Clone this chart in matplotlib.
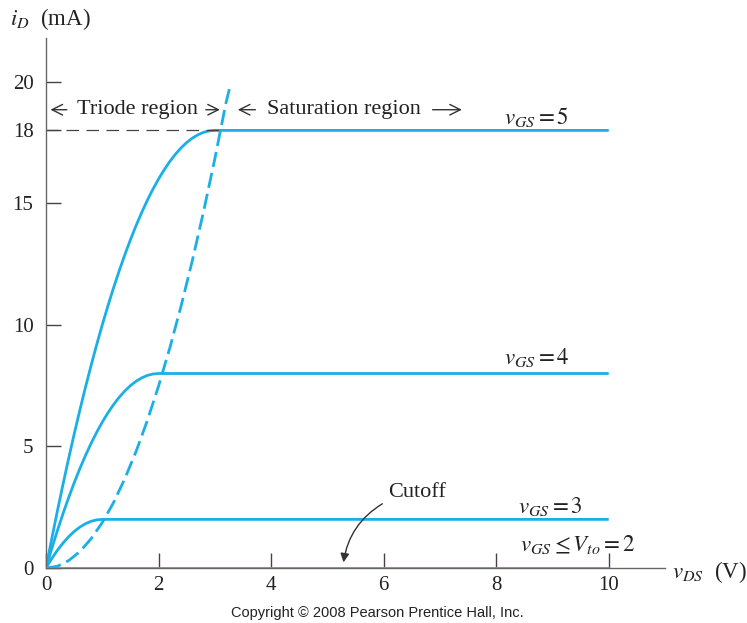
import matplotlib
matplotlib.use("Agg")
import matplotlib.pyplot as plt

plt.rcParams['font.family'] = ['Liberation Serif', 'DejaVu Serif']
plt.rcParams['mathtext.fontset'] = 'stix'

BLUE = '#1AAFE6'

# vGS = 5 curve (triode part then saturation)
vds_5 = [0, 0.1, 0.2, 0.3, 0.4, 0.5, 0.6, 0.7, 0.8, 0.9, 1.0, 1.1, 1.2, 1.3, 1.4, 1.5,
         1.6, 1.7, 1.8, 1.9, 2.0, 2.1, 2.2, 2.3, 2.4, 2.5, 2.6, 2.7, 2.8, 2.9, 3.0, 3.1, 3.2, 10.0]
id_5 = [0, 1.18, 2.32, 3.42, 4.48, 5.5, 6.48, 7.42, 8.32, 9.18, 10.0, 10.78, 11.52, 12.22, 12.88, 13.5,
        14.08, 14.62, 15.12, 15.58, 16.0, 16.38, 16.72, 17.02, 17.28, 17.5, 17.68, 17.82, 17.92, 17.98,
        18.0, 18.0, 18.0, 18.0]
# vGS = 4
vds_4 = [0, 0.1, 0.2, 0.3, 0.4, 0.5, 0.6, 0.7, 0.8, 0.9, 1.0, 1.1, 1.2, 1.3, 1.4, 1.5,
         1.6, 1.7, 1.8, 1.9, 2.0, 2.1, 10.0]
id_4 = [0, 0.78, 1.52, 2.22, 2.88, 3.5, 4.08, 4.62, 5.12, 5.58, 6.0, 6.38, 6.72, 7.02, 7.28, 7.5,
        7.68, 7.82, 7.92, 7.98, 8.0, 8.0, 8.0]
# vGS = 3
vds_3 = [0, 0.1, 0.2, 0.3, 0.4, 0.5, 0.6, 0.7, 0.8, 0.9, 1.0, 1.05, 10.0]
id_3 = [0, 0.38, 0.72, 1.02, 1.28, 1.5, 1.68, 1.82, 1.92, 1.98, 2.0, 2.0, 2.0]
# cutoff vGS <= Vto = 2
vds_2 = [0, 10.0]
id_2 = [0, 0]
# triode / saturation boundary (dashed)
vds_b = [0, 0.2, 0.4, 0.6, 0.8, 1.0, 1.2, 1.4, 1.6, 1.8, 2.0, 2.2, 2.4, 2.6, 2.8, 3.0, 3.2, 3.28]
id_b = [0, 0.07, 0.3, 0.67, 1.2, 1.87, 2.69, 3.67, 4.79, 6.06, 7.48, 9.05, 10.77, 12.64,
        14.66, 16.83, 19.15, 19.9]

x_ticks = [0, 2, 4, 6, 8, 10]
y_ticks = [0, 5, 10, 15, 18, 20]

fig = plt.figure(figsize=(7.47, 6.23), dpi=100)
ax = fig.add_axes([46/747, 55/623, (665-46)/747, (568-38)/623])
ax.set_xlim(0, 11)
ax.set_ylim(0, 21.8)

lw = 2.0
kw = dict(color=BLUE, lw=lw, solid_capstyle='butt', solid_joinstyle='round')
ax.plot(vds_5, id_5, **kw)
ax.plot(vds_4, id_4, **kw)
ax.plot(vds_3, id_3, **kw)
ax.plot(vds_2, id_2, zorder=4, **kw)
ax.plot(vds_b, id_b, color=BLUE, lw=lw, dashes=(5.5, 2.2))
ax.plot([0, 3.1], [18, 18], color='#444444', lw=0.9, dashes=(10, 6))

for s in ['top', 'right']:
    ax.spines[s].set_visible(False)
for s in ['left', 'bottom']:
    ax.spines[s].set_color('#666666')
    ax.spines[s].set_linewidth(1.0)

ax.set_xticks(x_ticks)
ax.set_yticks(y_ticks)
ax.set_xticklabels([str(t) for t in x_ticks])
ax.set_yticklabels([str(t) for t in y_ticks])
ax.tick_params(axis='both', direction='in', length=11, width=1.0, color='#444444',
               labelsize=15, labelcolor='#222222')
ax.tick_params(axis='x', pad=6)
ax.tick_params(axis='y', pad=9)

tc = '#222222'
fs = 16.5
ax.text(-0.64, 22.6, r'$i_D$  (mA)', fontsize=fs, color=tc, ha='left', va='center', clip_on=False)
ax.text(11.12, -0.16, r'$v_{DS}$  (V)', fontsize=fs, color=tc, ha='left', va='center', clip_on=False)

arr = dict(arrowstyle='->', color='#333333', lw=1.0, mutation_scale=19)
ty = 18.85
ax.annotate('', xy=(0.03, ty), xytext=(0.42, ty), arrowprops=arr)
ax.text(1.62, ty, 'Triode region', fontsize=16, color=tc, ha='center', va='center')
ax.annotate('', xy=(3.14, ty), xytext=(2.79, ty), arrowprops=arr)
ax.annotate('', xy=(3.36, ty), xytext=(3.77, ty), arrowprops=arr)
ax.text(5.29, ty, 'Saturation region', fontsize=16, color=tc, ha='center', va='center')
ax.annotate('', xy=(7.44, ty), xytext=(6.82, ty), arrowprops=arr)

ax.text(8.72, 18.55, r'$v_{GS} = 5$', fontsize=fs, color=tc, ha='center', va='center')
ax.text(8.72, 8.65, r'$v_{GS} = 4$', fontsize=fs, color=tc, ha='center', va='center')
ax.text(8.97, 2.55, r'$v_{GS} = 3$', fontsize=fs, color=tc, ha='center', va='center')
ax.text(9.45, 0.95, r'$v_{GS} \leq V_{to} = 2$', fontsize=fs, color=tc, ha='center', va='center')

ax.text(6.59, 3.09, 'Cutoff', fontsize=16, color=tc, ha='center', va='center')
ax.annotate('', xy=(5.28, 0.12), xytext=(6.02, 2.7),
            arrowprops=dict(arrowstyle='-|>', color='#333333', lw=1.0, mutation_scale=13,
                            connectionstyle='arc3,rad=0.25'))

fig.text(377/747, 1 - 613/623, 'Copyright \u00a9 2008 Pearson Prentice Hall, Inc.',
         fontsize=10.5, family='Liberation Sans', color='#222222', ha='center', va='center')

fig.savefig('out.png', dpi=100)
